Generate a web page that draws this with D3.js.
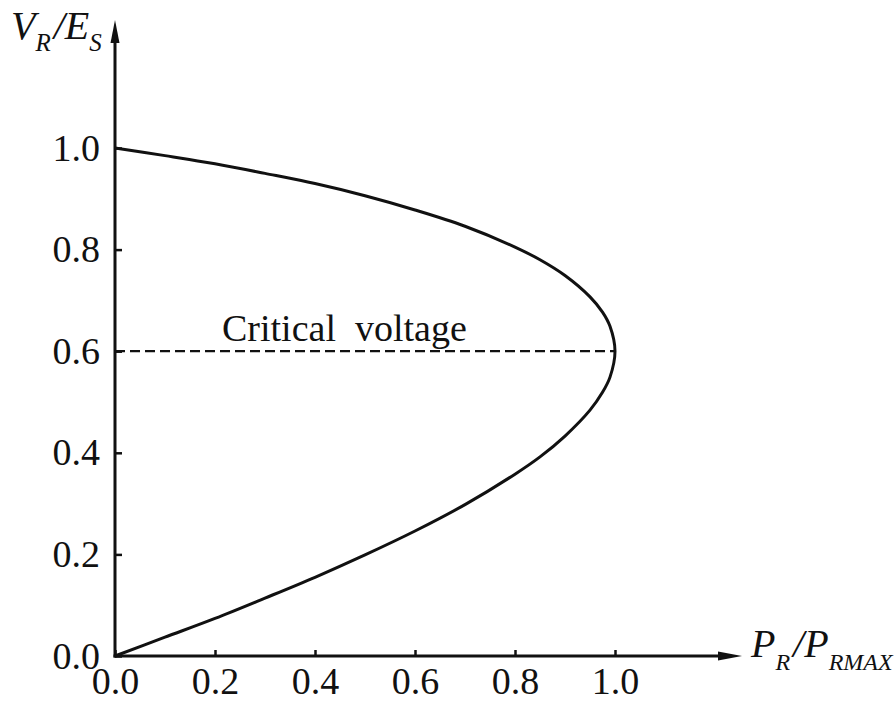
<!DOCTYPE html>
<html>
<head>
<meta charset="utf-8">
<script src="https://cdn.jsdelivr.net/npm/d3@7"></script>
<style>
  body { margin: 0; background: #fff; }
</style>
</head>
<body>
<div id="chart"></div>
<script>
// Values
const tickValues = [0, 0.2, 0.4, 0.6, 0.8, 1.0];

// upper branch (stable), from P=0 to the nose
const upperP = [0, 0.1, 0.2, 0.3, 0.4, 0.5, 0.6, 0.7, 0.8, 0.85, 0.9, 0.95, 0.975, 0.99, 1.0];
const upperV = [1.0, 0.985, 0.969, 0.95, 0.93, 0.906, 0.878, 0.846, 0.805, 0.78, 0.749, 0.707, 0.677, 0.649, 0.6];

// lower branch, from the nose back to the origin
const lowerP = [1.0, 0.99, 0.975, 0.95, 0.9, 0.85, 0.8, 0.7, 0.6, 0.5, 0.4, 0.3, 0.2, 0.1, 0];
const lowerV = [0.6, 0.549, 0.519, 0.484, 0.433, 0.392, 0.358, 0.298, 0.246, 0.199, 0.155, 0.114, 0.074, 0.037, 0];

const criticalV = 0.6;
const criticalLabel = 'Critical  voltage';

const width = 896;
const height = 701;
const serif = '"Liberation Serif", "DejaVu Serif", serif';

const svg = d3.select('#chart')
  .append('svg')
  .attr('width', width)
  .attr('height', height);

const x = d3.scaleLinear().domain([0, 1]).range([115, 615]);
const y = d3.scaleLinear().domain([0, 1]).range([656, 148]);

const fmt = d3.format('.1f');

// y axis (ticks pointing inward)
const yAxis = svg.append('g')
  .attr('transform', `translate(${x(0)},0)`)
  .call(d3.axisLeft(y).tickValues(tickValues).tickFormat(fmt)
    .tickSizeInner(-7).tickSizeOuter(0).tickPadding(15));

// x axis
const xAxis = svg.append('g')
  .attr('transform', `translate(0,${y(0)})`)
  .call(d3.axisBottom(x).tickValues(tickValues).tickFormat(fmt)
    .tickSizeInner(-6).tickSizeOuter(0).tickPadding(11));

[yAxis, xAxis].forEach(g => {
  g.attr('font-family', null).attr('font-size', null);
  g.select('.domain').remove();
  g.selectAll('line').attr('stroke', '#111').attr('stroke-width', 2.5);
  g.selectAll('text')
    .style('font-family', serif)
    .style('font-size', '38px')
    .attr('fill', '#111');
});

// axis lines with arrows
svg.append('line')
  .attr('x1', x(0)).attr('y1', y(0) + 1.5)
  .attr('x2', x(0)).attr('y2', 36)
  .attr('stroke', '#111').attr('stroke-width', 3);
svg.append('path')
  .attr('d', `M${x(0)},20 L${x(0) - 4.5},43 L${x(0) + 4.5},43 Z`)
  .attr('fill', '#111');

svg.append('line')
  .attr('x1', x(0) - 1.5).attr('y1', y(0))
  .attr('x2', 725).attr('y2', y(0))
  .attr('stroke', '#111').attr('stroke-width', 3);
svg.append('path')
  .attr('d', `M742,${y(0)} L718,${y(0) - 4.5} L718,${y(0) + 4.5} Z`)
  .attr('fill', '#111');

// PV curve
const pts = upperP.map((p, i) => [p, upperV[i]])
  .concat(lowerP.slice(1).map((p, i) => [p, lowerV[i + 1]]));

const line = d3.line()
  .x(d => x(d[0]))
  .y(d => y(d[1]))
  .curve(d3.curveCatmullRom.alpha(0.5));

svg.append('path')
  .datum(pts)
  .attr('d', line)
  .attr('fill', 'none')
  .attr('stroke', '#111')
  .attr('stroke-width', 3);

// critical voltage dashed line
svg.append('line')
  .attr('x1', x(0)).attr('y1', y(criticalV))
  .attr('x2', x(1)).attr('y2', y(criticalV))
  .attr('stroke', '#111')
  .attr('stroke-width', 2.2)
  .attr('stroke-dasharray', '10,5');

svg.append('text')
  .attr('x', 222)
  .attr('y', y(criticalV) - 10)
  .style('font-family', serif)
  .style('font-size', '38px')
  .style('white-space', 'pre')
  .attr('fill', '#111')
  .text(criticalLabel);

// axis titles
const yTitle = svg.append('text')
  .attr('x', 11).attr('y', 39)
  .style('font-family', serif)
  .style('font-size', '40px')
  .style('font-style', 'italic')
  .attr('fill', '#111');
yTitle.append('tspan').text('V');
yTitle.append('tspan').attr('dy', 12).style('font-size', '25px').text('R');
yTitle.append('tspan').attr('dy', -12).attr('dx', 3).text('/E');
yTitle.append('tspan').attr('dy', 12).style('font-size', '25px').text('S');

const xTitle = svg.append('text')
  .attr('x', 751).attr('y', 657)
  .style('font-family', serif)
  .style('font-size', '40px')
  .style('font-style', 'italic')
  .attr('fill', '#111');
xTitle.append('tspan').text('P');
xTitle.append('tspan').attr('dy', 13).style('font-size', '24px').text('R');
xTitle.append('tspan').attr('dy', -13).attr('dx', 3).text('/P');
xTitle.append('tspan').attr('dy', 13).style('font-size', '24px').text('RMAX');
</script>
</body>
</html>
